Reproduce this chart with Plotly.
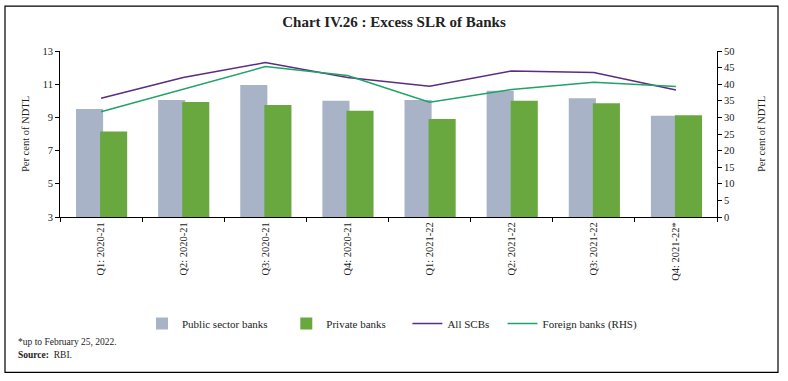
import plotly.graph_objects as go

categories = ["Q1: 2020-21", "Q2: 2020-21", "Q3: 2020-21", "Q4: 2020-21",
              "Q1: 2021-22", "Q2: 2021-22", "Q3: 2021-22", "Q4: 2021-22*"]
public_sector = [9.5, 10.05, 10.95, 10.0, 10.05, 10.6, 10.15, 9.1]
private_banks = [8.15, 9.93, 9.75, 9.4, 8.9, 10.0, 9.85, 9.13]
all_scbs = [10.15, 11.4, 12.3, 11.4, 10.88, 11.8, 11.7, 10.65]
foreign_rhs = [31.7, 38.5, 45.3, 42.6, 34.6, 38.4, 40.6, 39.3]
series_names = ["Public sector banks", "Private banks", "All SCBs", "Foreign banks (RHS)"]

FONT = "Liberation Serif"
TXT = "#222222"
NB = "\u00a0"

fig = go.Figure()
fig.add_trace(go.Bar(x=categories, y=public_sector, name=series_names[0] + NB * 5,
                     marker=dict(color="#A8B3C7", line=dict(width=0)),
                     width=0.33, offset=-0.305))
fig.add_trace(go.Bar(x=categories, y=private_banks, name=series_names[1] + NB * 6,
                     marker=dict(color="#69A83F", line=dict(width=0)),
                     width=0.33, offset=-0.012))
fig.add_trace(go.Scatter(x=categories, y=all_scbs, name=series_names[2] + NB * 3, mode="lines",
                         line=dict(color="#5A2D82", width=1.5)))
fig.add_trace(go.Scatter(x=categories, y=foreign_rhs, name=series_names[3], mode="lines",
                         line=dict(color="#1FA366", width=1.5), yaxis="y2"))

PH = 166.3
PW = 657.0
def px_x(x):
    return (x - 60) / PW
def px_y(y):
    return (217.3 - y) / PH

fig.update_layout(
    width=788, height=381,
    margin=dict(l=60, r=71, t=51, b=164),
    paper_bgcolor="white", plot_bgcolor="white",
    font=dict(family=FONT, size=10, color=TXT),
    barmode="overlay",
    showlegend=True,
    title=dict(text="<b>Chart IV.26 : Excess SLR of Banks</b>", x=0.5, xanchor="center",
               y=1 - 22 / 381, yanchor="middle", font=dict(family=FONT, size=15, color=TXT)),
    xaxis=dict(type="category", tickson="boundaries", ticks="outside", ticklen=4,
               tickcolor="black", showline=True, linecolor="black", linewidth=1,
               tickangle=-90, showgrid=False, tickfont=dict(size=10.5, color=TXT)),
    yaxis=dict(range=[3, 13], tickvals=[3, 5, 7, 9, 11, 13], ticks="outside", ticklen=4,
               tickcolor="black", showline=True, linecolor="black", linewidth=1,
               showgrid=False, zeroline=False,
               title=dict(text="Per cent of NDTL", standoff=10, font=dict(size=10.5, color=TXT)),
               tickfont=dict(size=10.5, color=TXT)),
    yaxis2=dict(range=[0, 50], tickvals=list(range(0, 55, 5)), overlaying="y", side="right",
                ticks="outside", ticklen=4, tickcolor="black", showline=True,
                linecolor="black", linewidth=1, showgrid=False, zeroline=False,
                title=dict(text="Per cent of NDTL", standoff=24, font=dict(size=10.5, color=TXT)),
                tickfont=dict(size=10.5, color=TXT)),
    legend=dict(orientation="h", x=px_x(392), xanchor="center", y=px_y(324), yanchor="middle",
                font=dict(size=11, color=TXT), traceorder="normal", itemwidth=30,
                bgcolor="rgba(0,0,0,0)"),
    shapes=[dict(type="rect", xref="paper", yref="paper",
                 x0=px_x(5), x1=px_x(778), y0=px_y(373), y1=px_y(6),
                 line=dict(color="black", width=1.2), fillcolor="rgba(0,0,0,0)", layer="below")],
    annotations=[
        dict(text="*up to February 25, 2022.", xref="paper", yref="paper",
             x=px_x(16), y=px_y(343), xanchor="left", yanchor="middle", showarrow=False,
             font=dict(size=9.5, color=TXT)),
        dict(text="<b>Source:</b>  RBI.", xref="paper", yref="paper",
             x=px_x(16), y=px_y(356), xanchor="left", yanchor="middle", showarrow=False,
             font=dict(size=9.5, color=TXT)),
    ],
)

fig.write_html("out.html", config={"displayModeBar": False},
               post_script="document.body.style.margin='0px';")
